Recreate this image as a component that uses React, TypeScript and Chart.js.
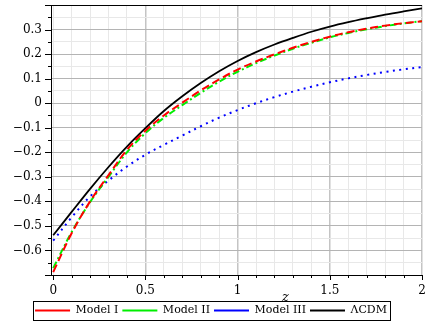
import React, { useEffect, useRef } from "react";
import { Chart, registerables } from "chart.js";

Chart.register(...registerables);

const zValues = [0, 0.1, 0.2, 0.3, 0.4, 0.5, 0.6, 0.7, 0.8, 0.9, 1.0, 1.1, 1.2, 1.3, 1.4, 1.5, 1.6, 1.7, 1.8, 1.9, 2.0];
const modelI = [-0.688, -0.53, -0.4, -0.293, -0.19, -0.112, -0.05, 0.002, 0.052, 0.097, 0.137, 0.17, 0.199, 0.226, 0.25, 0.271, 0.289, 0.304, 0.316, 0.326, 0.334];
const modelII = [-0.672, -0.525, -0.403, -0.3, -0.2, -0.122, -0.06, -0.008, 0.042, 0.088, 0.128, 0.163, 0.194, 0.222, 0.246, 0.268, 0.286, 0.301, 0.314, 0.325, 0.334];
const modelIII = [-0.56, -0.465, -0.38, -0.315, -0.258, -0.21, -0.17, -0.132, -0.094, -0.059, -0.028, 0.0, 0.025, 0.047, 0.067, 0.085, 0.101, 0.115, 0.127, 0.138, 0.147];
const lcdm = [-0.538, -0.443, -0.349, -0.26, -0.177, -0.102, -0.032, 0.028, 0.082, 0.13, 0.172, 0.208, 0.239, 0.266, 0.291, 0.312, 0.33, 0.346, 0.361, 0.374, 0.386];

const seriesNames = ["Model I", "Model II", "Model III", "ΛCDM"];
const xTickLabels = [0, 0.5, 1, 1.5, 2];
const yTickLabels = [-0.6, -0.5, -0.4, -0.3, -0.2, -0.1, 0, 0.1, 0.2, 0.3];
const xMinorStep = 0.1;
const yMinorStep = 0.05;
const xRange = [-0.012, 2];
const yRange = [-0.7, 0.4];
const xAxisTitle = "z";

const FONT = '"DejaVu Serif", serif';

const near = (a: number, b: number) => Math.abs(a - b) < 1e-6;
const isXMajor = (v: number) => xTickLabels.some((t) => near(t, v));
const isYMajor = (v: number) => Math.abs(v * 10 - Math.round(v * 10)) < 1e-6;

function stepValues(from: number, to: number, step: number) {
  const out: number[] = [];
  const n = Math.round((to - from) / step);
  for (let i = 0; i <= n; i++) out.push(Math.round((from + i * step) * 1000) / 1000);
  return out;
}

const decorPlugin = {
  id: "decor",
  afterDraw(chart: any) {
    const { ctx, chartArea, scales } = chart;
    const xs = scales.x;
    const ys = scales.y;
    ctx.save();
    ctx.strokeStyle = "#000";
    ctx.lineWidth = 1;
    ctx.beginPath();
    ctx.moveTo(chartArea.left, chartArea.top + 0.5);
    ctx.lineTo(chartArea.right, chartArea.top + 0.5);
    ctx.stroke();
    const yl = chartArea.left;
    for (const v of stepValues(yRange[0], yRange[1], yMinorStep)) {
      const py = Math.round(ys.getPixelForValue(v)) + 0.5;
      const len = isYMajor(v) ? 6 : 3;
      ctx.beginPath();
      ctx.moveTo(yl - len, py);
      ctx.lineTo(yl, py);
      ctx.stroke();
    }
    const xb = chartArea.bottom;
    for (const v of stepValues(0, xRange[1], xMinorStep)) {
      const px = Math.round(xs.getPixelForValue(v)) + 0.5;
      const len = isXMajor(v) ? 5 : 3;
      ctx.beginPath();
      ctx.moveTo(px, xb);
      ctx.lineTo(px, xb + len);
      ctx.stroke();
    }
    ctx.fillStyle = "#000";
    ctx.font = "italic 13px " + FONT;
    ctx.textAlign = "center";
    ctx.textBaseline = "alphabetic";
    ctx.fillText(xAxisTitle, xs.getPixelForValue(1.26), chartArea.bottom + 26);
    const lg = chart.legend;
    if (lg && lg.legendHitBoxes && lg.legendHitBoxes.length) {
      const boxes = lg.legendHitBoxes;
      const left = Math.min(...boxes.map((b: any) => b.left)) - 2;
      const right = Math.max(...boxes.map((b: any) => b.left + b.width)) + 3;
      const top = Math.min(...boxes.map((b: any) => b.top)) - 4;
      const bottom = Math.max(...boxes.map((b: any) => b.top + b.height)) + 4;
      ctx.strokeStyle = "#000";
      ctx.lineWidth = 1;
      ctx.strokeRect(Math.round(left) + 0.5, Math.round(top) + 0.5, Math.round(right - left), Math.round(bottom - top));
    }
    ctx.restore();
  },
};

export default function App() {
  const ref = useRef<HTMLCanvasElement | null>(null);
  useEffect(() => {
    if (!ref.current) return;
    const mk = (vals: number[]) => zValues.map((z, i) => ({ x: z, y: vals[i] }));
    const chart = new Chart(ref.current, {
      type: "line",
      data: {
        datasets: [
          { label: seriesNames[0], data: mk(modelI), borderColor: "#ff0000", borderWidth: 2, borderDash: [8, 4], pointRadius: 0, tension: 0.35, pointStyle: "line" },
          { label: seriesNames[1], data: mk(modelII), borderColor: "#00ee00", borderWidth: 2, borderDash: [7, 3, 2, 3], pointRadius: 0, tension: 0.35, pointStyle: "line" },
          { label: seriesNames[2], data: mk(modelIII), borderColor: "#0000ff", borderWidth: 2, borderDash: [2, 4.5], pointRadius: 0, tension: 0.35, pointStyle: "line" },
          { label: seriesNames[3], data: mk(lcdm), borderColor: "#000000", borderWidth: 1.8, pointRadius: 0, tension: 0.35, pointStyle: "line" },
        ],
      },
      options: {
        animation: false,
        responsive: true,
        maintainAspectRatio: false,
        layout: { padding: { left: 0, right: 9, top: 5, bottom: 1 } },
        plugins: {
          tooltip: { enabled: false },
          legend: {
            display: true,
            position: "bottom",
            labels: {
              usePointStyle: true,
              pointStyle: "line",
              pointStyleWidth: 35,
              padding: 4,
              color: "#000",
              font: { family: FONT, size: 11 },
            },
          },
        },
        scales: {
          x: {
            type: "linear",
            min: xRange[0],
            max: xRange[1],
            afterBuildTicks: (s: any) => {
              s.ticks = stepValues(0, xRange[1], xMinorStep).map((v) => ({ value: v }));
            },
            afterFit: (s: any) => {
              s.height = 26;
              s.paddingLeft = 0;
              s.paddingRight = 0;
              s.paddingTop = 0;
              s.paddingBottom = 0;
            },
            ticks: {
              autoSkip: false,
              maxRotation: 0,
              padding: 9,
              color: "#000",
              font: { family: FONT, size: 12 },
              callback: (v: any) => (isXMajor(Number(v)) ? String(Number(v)) : ""),
            },
            grid: {
              drawTicks: false,
              color: (c: any) => (isXMajor(c.tick.value) && c.tick.value > 0 ? "#c4c4c4" : "#e8e8e8"),
              lineWidth: (c: any) => (isXMajor(c.tick.value) && c.tick.value > 0 ? 1.5 : 1),
            },
            border: { display: true, color: "#000", width: 1 },
          },
          y: {
            type: "linear",
            min: yRange[0],
            max: yRange[1],
            afterBuildTicks: (s: any) => {
              s.ticks = stepValues(yRange[0], yRange[1], yMinorStep).map((v) => ({ value: v }));
            },
            afterFit: (s: any) => {
              s.width = 51;
              s.paddingLeft = 0;
              s.paddingRight = 0;
              s.paddingTop = 0;
              s.paddingBottom = 0;
            },
            ticks: {
              autoSkip: false,
              padding: 9,
              color: "#000",
              font: { family: FONT, size: 12 },
              callback: (v: any) => {
                const n = Number(v);
                if (!yTickLabels.some((t) => near(t, n))) return "";
                if (near(n, 0)) return "0";
                const s = Math.abs(n).toFixed(1);
                return n < 0 ? "\u2212" + s : s;
              },
            },
            grid: {
              drawTicks: false,
              color: (c: any) => (isYMajor(c.tick.value) ? "#b4b4b4" : "#e8e8e8"),
            },
            border: { display: true, color: "#000", width: 1 },
          },
        },
      },
      plugins: [decorPlugin],
    } as any);
    return () => chart.destroy();
  }, []);
  return (
    <div style={{ position: "absolute", left: 0, top: 0, width: 431, height: 327, background: "#fff" }}>
      <canvas ref={ref} />
    </div>
  );
}
